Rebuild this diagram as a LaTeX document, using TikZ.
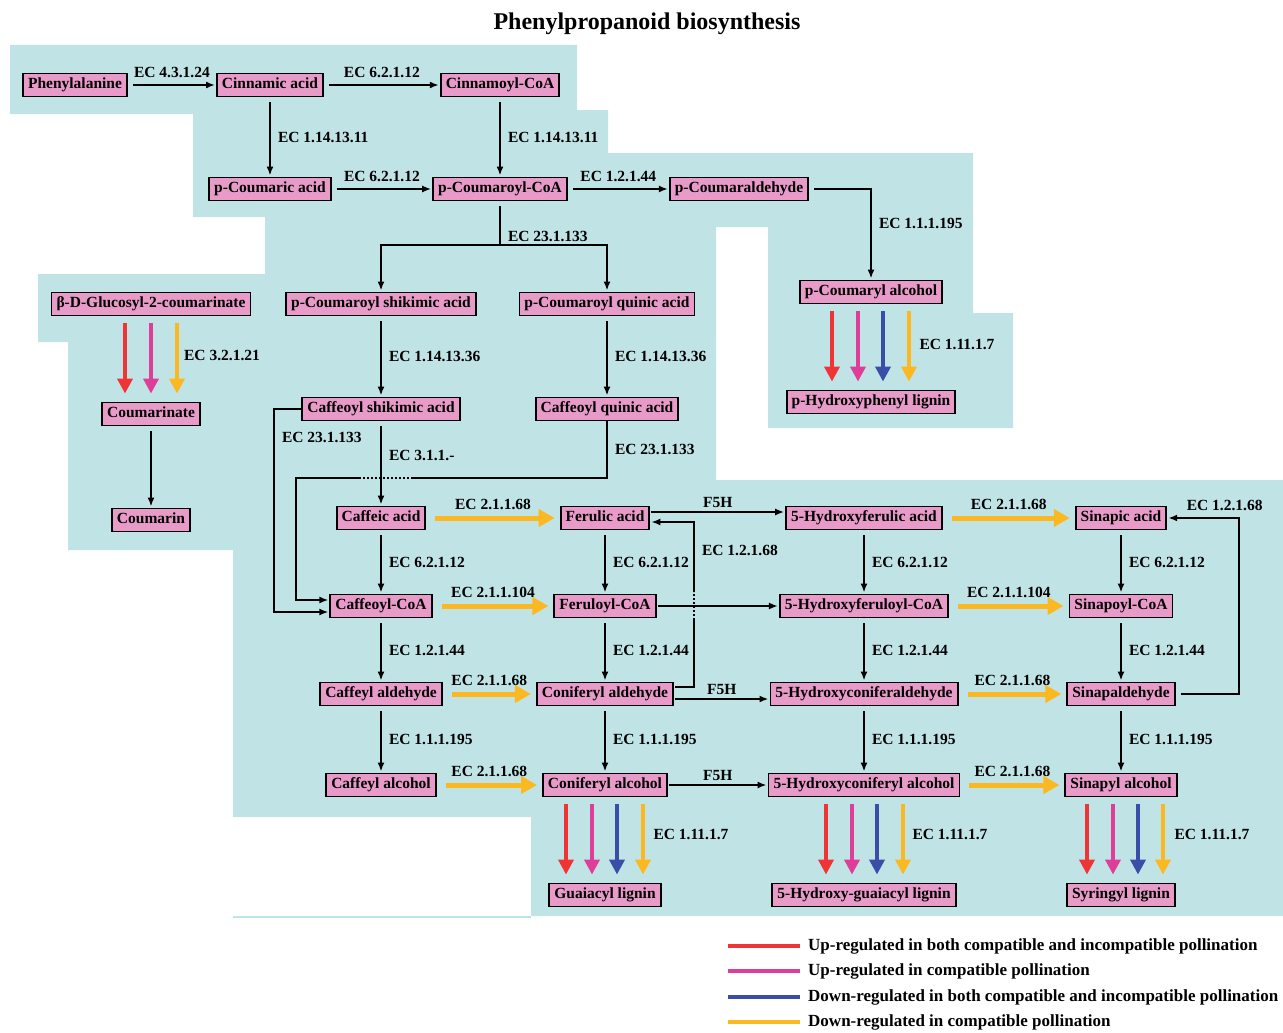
\documentclass[tikz,border=0pt]{standalone}
\usepackage{fontspec}
\setmainfont{Liberation Serif}
\usetikzlibrary{arrows.meta}
\definecolor{bgcyan}{RGB}{192,227,230}
\definecolor{boxpink}{RGB}{232,155,200}
\definecolor{upred}{RGB}{238,52,52}
\definecolor{upmag}{RGB}{222,62,152}
\definecolor{dnblue}{RGB}{58,78,168}
\definecolor{dnorange}{RGB}{252,184,32}

\begin{document}
\begin{tikzpicture}[x=1pt,y=-1pt,font=\bfseries\fontsize{15.5}{17}\selectfont]

\tikzstyle{met}=[draw,fill=boxpink,line width=1.9pt,inner xsep=5pt,inner ysep=0pt,minimum height=23pt,text height=10.5pt,text depth=3pt]
\tikzstyle{rxn}=[-{Latex[length=9pt,width=7pt]},line width=2pt,shorten <=5pt,shorten >=1pt]
\tikzstyle{omt}=[-{Triangle[length=16pt,width=17pt]},line width=5pt,dnorange,shorten <=9pt,shorten >=5pt]
\tikzstyle{lig}=[-{Triangle[length=15pt,width=15pt]},line width=4.5pt,shorten <=7pt,shorten >=8pt]
\tikzstyle{ec}=[inner sep=3pt,text=black]
\tikzstyle{ecr}=[ec,right,xshift=4pt]
\tikzstyle{eca}=[ec,above=3pt]

\useasboundingbox(0,0)rectangle(1283,1033);
\fill[white](0,0)rectangle(1283,1033);

% background
\fill[bgcyan](10,45)--(577,45)--(577,110)--(608,110)--(608,153)--(973,153)--(973,313)--(1013,313)--(1013,428)--(768,428)--(768,227)--(716,227)--(716,480)--(1283,480)--(1283,916)--(531,916)--(531,817)--(233,817)--(233,550)--(68,550)--(68,342)--(38,342)--(38,274)--(265,274)--(265,217)--(193,217)--(193,114)--(10,114)--cycle;
\draw[bgcyan,line width=1.5pt](233,917)--(531,917);

\node(title)at(647,24){\fontsize{24}{26}\selectfont Phenylpropanoid biosynthesis};

\node[met](phe)at(75,85){Phenylalanine};
\node[met](cin)at(270,85){Cinnamic acid};
\node[met](cinCoA)at(500,85){Cinnamoyl-CoA};
\node[met](pcou)at(270,189){p-Coumaric acid};
\node[met](pcouCoA)at(500,189){p-Coumaroyl-CoA};
\node[met](pcoual)at(739,189){p-Coumaraldehyde};
\node[met](gluc)at(151,304){β-D-Glucosyl-2-coumarinate};
\node[met](pcshik)at(381,304){p-Coumaroyl shikimic acid};
\node[met](pcquin)at(607,304){p-Coumaroyl quinic acid};
\node[met](pcoualc)at(871,292){p-Coumaryl alcohol};
\node[met](cmrte)at(151,414){Coumarinate};
\node[met](cmrn)at(151,520){Coumarin};
\node[met](phlig)at(871,402){p-Hydroxyphenyl lignin};
\node[met](cshik)at(381,409){Caffeoyl shikimic acid};
\node[met](cquin)at(607,409){Caffeoyl quinic acid};

\node[met](caf)at(381,518){Caffeic acid};
\node[met](fer)at(605,518){Ferulic acid};
\node[met](hfer)at(864,518){5-Hydroxyferulic acid};
\node[met](sin)at(1121,518){Sinapic acid};
\node[met](cafCoA)at(381,606){Caffeoyl-CoA};
\node[met](ferCoA)at(605,606){Feruloyl-CoA};
\node[met](hferCoA)at(864,606){5-Hydroxyferuloyl-CoA};
\node[met](sinCoA)at(1121,606){Sinapoyl-CoA};
\node[met](cafald)at(381,694){Caffeyl aldehyde};
\node[met](conald)at(605,694){Coniferyl aldehyde};
\node[met](hconald)at(864,694){5-Hydroxyconiferaldehyde};
\node[met](sinald)at(1121,694){Sinapaldehyde};
\node[met](cafalc)at(381,785){Caffeyl alcohol};
\node[met](conalc)at(605,785){Coniferyl alcohol};
\node[met](hconalc)at(864,785){5-Hydroxyconiferyl alcohol};
\node[met](sinalc)at(1121,785){Sinapyl alcohol};
\node[met](glig)at(605,895){Guaiacyl lignin};
\node[met](hglig)at(864,895){5-Hydroxy-guaiacyl lignin};
\node[met](slig)at(1121,895){Syringyl lignin};

\coordinate(sp)at(500,245);
\coordinate(sl)at(274,409);
\coordinate(qa)at(413,478);
\coordinate(qb)at(360,478);
\coordinate(ql)at(296,478);
\coordinate(jT)at(694,592);
\coordinate(jB)at(694,620);
\coordinate(sr)at(1239,694);

\draw[rxn](phe)--(cin)node[midway,eca]{EC 4.3.1.24};
\draw[rxn](cin)--(cinCoA)node[midway,eca]{EC 6.2.1.12};
\draw[rxn](cin)--(pcou)node[midway,ecr]{EC 1.14.13.11};
\draw[rxn](cinCoA)--(pcouCoA)node[midway,ecr]{EC 1.14.13.11};
\draw[rxn](pcou)--(pcouCoA)node[midway,eca]{EC 6.2.1.12};
\draw[rxn](pcouCoA)--(pcoual)node[midway,eca]{EC 1.2.1.44};
\draw[rxn](pcoual)-|(pcoualc)node[pos=0.69,ecr]{EC 1.1.1.195};
\draw[line width=2pt,shorten <=5pt](pcouCoA)--(sp)node[pos=0.8,ecr]{EC 23.1.133};
\draw[rxn,shorten <=0pt](sp)-|(pcshik);
\draw[rxn,shorten <=0pt](sp)-|(pcquin);
\draw[rxn](pcshik)--(cshik)node[midway,ecr]{EC 1.14.13.36};
\draw[rxn](pcquin)--(cquin)node[midway,ecr]{EC 1.14.13.36};
\draw[rxn](cmrte)--(cmrn);

% shikimate / quinate routes to caffeoyl-CoA
\draw[rxn,shorten <=0pt](cshik)--(sl)|-([yshift=-6pt]cafCoA.west)node[pos=0.07,ecr]{EC 23.1.133};
\draw[line width=2pt](cquin)|-(qa)node[pos=0.25,ecr]{EC 23.1.133};
\draw[line width=2pt,dotted](qa)--(qb);
\draw[rxn,shorten <=0pt](qb)--(ql)|-([yshift=6pt]cafCoA.west);
\draw[rxn](cshik)--(caf)node[pos=0.4,ecr]{EC 3.1.1.-};

\draw[rxn](caf)--(cafCoA)node[midway,ecr]{EC 6.2.1.12};
\draw[rxn](fer)--(ferCoA)node[midway,ecr]{EC 6.2.1.12};
\draw[rxn](hfer)--(hferCoA)node[midway,ecr]{EC 6.2.1.12};
\draw[rxn](sin)--(sinCoA)node[midway,ecr]{EC 6.2.1.12};
\draw[rxn](cafCoA)--(cafald)node[midway,ecr]{EC 1.2.1.44};
\draw[rxn](ferCoA)--(conald)node[midway,ecr]{EC 1.2.1.44};
\draw[rxn](hferCoA)--(hconald)node[midway,ecr]{EC 1.2.1.44};
\draw[rxn](sinCoA)--(sinald)node[midway,ecr]{EC 1.2.1.44};
\draw[rxn](cafald)--(cafalc)node[midway,ecr]{EC 1.1.1.195};
\draw[rxn](conald)--(conalc)node[midway,ecr]{EC 1.1.1.195};
\draw[rxn](hconald)--(hconalc)node[midway,ecr]{EC 1.1.1.195};
\draw[rxn](sinald)--(sinalc)node[midway,ecr]{EC 1.1.1.195};

\draw[rxn,shorten <=1pt]([yshift=6pt]fer.east)--([yshift=6pt]hfer.west)node[midway,ec,above]{F5H};
\draw[rxn,shorten <=1pt]([yshift=-5pt]conald.east)--([yshift=-5pt]hconald.west)node[midway,ec,above]{F5H};
\draw[rxn,shorten <=1pt](conalc)--(hconalc)node[midway,ec,above]{F5H};
\draw[rxn,shorten <=1pt](ferCoA)--(hferCoA);
\draw[line width=2pt,shorten <=1pt]([yshift=7pt]conald.east)-|(jB);
\draw[line width=2pt,dotted](jB)--(jT);
\draw[rxn,shorten <=0pt](jT)|-([yshift=-4pt]fer.east)node[pos=0.3,ecr]{EC 1.2.1.68};
\draw[rxn](sinald)--(sr)|-(sin)node[pos=0.6,eca]{EC 1.2.1.68};

\draw[omt](caf)--(fer)node[midway,eca]{EC 2.1.1.68};
\draw[omt](hfer)--(sin)node[midway,eca]{EC 2.1.1.68};
\draw[omt](cafCoA)--(ferCoA)node[midway,eca]{EC 2.1.1.104};
\draw[omt](hferCoA)--(sinCoA)node[midway,eca]{EC 2.1.1.104};
\draw[omt](cafald)--(conald)node[midway,eca]{EC 2.1.1.68};
\draw[omt](hconald)--(sinald)node[midway,eca]{EC 2.1.1.68};
\draw[omt](cafalc)--(conalc)node[midway,eca]{EC 2.1.1.68};
\draw[omt](hconalc)--(sinalc)node[midway,eca]{EC 2.1.1.68};

% coloured arrows
\draw[lig,upred]([xshift=-26pt]gluc.south)--([xshift=-26pt]cmrte.north);
\draw[lig,upmag](gluc.south)--(cmrte.north);
\draw[lig,dnorange]([xshift=26pt]gluc.south)--([xshift=26pt]cmrte.north);
\node[ec](ecg)at(222,355){EC 3.2.1.21};

\draw[lig,upred]([xshift=-39pt]pcoualc.south)--([xshift=-39pt]phlig.north);
\draw[lig,upmag]([xshift=-13pt]pcoualc.south)--([xshift=-13pt]phlig.north);
\draw[lig,dnblue]([xshift=12pt]pcoualc.south)--([xshift=12pt]phlig.north);
\draw[lig,dnorange]([xshift=38pt]pcoualc.south)--([xshift=38pt]phlig.north);
\node[ec](ecp)at(957,344){EC 1.11.1.7};

\draw[lig,upred]([xshift=-39pt]conalc.south)--([xshift=-39pt]glig.north);
\draw[lig,upmag]([xshift=-13pt]conalc.south)--([xshift=-13pt]glig.north);
\draw[lig,dnblue]([xshift=12pt]conalc.south)--([xshift=12pt]glig.north);
\draw[lig,dnorange]([xshift=38pt]conalc.south)--([xshift=38pt]glig.north);
\node[ec](ecc)at(691,834){EC 1.11.1.7};

\draw[lig,upred]([xshift=-38pt]hconalc.south)--([xshift=-38pt]hglig.north);
\draw[lig,upmag]([xshift=-12pt]hconalc.south)--([xshift=-12pt]hglig.north);
\draw[lig,dnblue]([xshift=13pt]hconalc.south)--([xshift=13pt]hglig.north);
\draw[lig,dnorange]([xshift=39pt]hconalc.south)--([xshift=39pt]hglig.north);
\node[ec](ech)at(950,834){EC 1.11.1.7};

\draw[lig,upred]([xshift=-34pt]sinalc.south)--([xshift=-34pt]slig.north);
\draw[lig,upmag]([xshift=-8pt]sinalc.south)--([xshift=-8pt]slig.north);
\draw[lig,dnblue]([xshift=17pt]sinalc.south)--([xshift=17pt]slig.north);
\draw[lig,dnorange]([xshift=42pt]sinalc.south)--([xshift=42pt]slig.north);
\node[ec](ecs)at(1212,834){EC 1.11.1.7};

% legend
\node[ec,anchor=west,font=\bfseries\fontsize{17}{19}\selectfont](leg1)at(805,946){Up-regulated in both compatible and incompatible pollination};
\node[ec,anchor=west,font=\bfseries\fontsize{17}{19}\selectfont](leg2)at(805,971){Up-regulated in compatible pollination};
\node[ec,anchor=west,font=\bfseries\fontsize{17}{19}\selectfont](leg3)at(805,997){Down-regulated in both compatible and incompatible pollination};
\node[ec,anchor=west,font=\bfseries\fontsize{17}{19}\selectfont](leg4)at(805,1022){Down-regulated in compatible pollination};
\draw[line width=4.5pt,upred](728,946)--([xshift=-5pt]leg1.west);
\draw[line width=4.5pt,upmag](728,971)--([xshift=-5pt]leg2.west);
\draw[line width=4.5pt,dnblue](728,997)--([xshift=-5pt]leg3.west);
\draw[line width=4.5pt,dnorange](728,1022)--([xshift=-5pt]leg4.west);

\end{tikzpicture}
\end{document}
